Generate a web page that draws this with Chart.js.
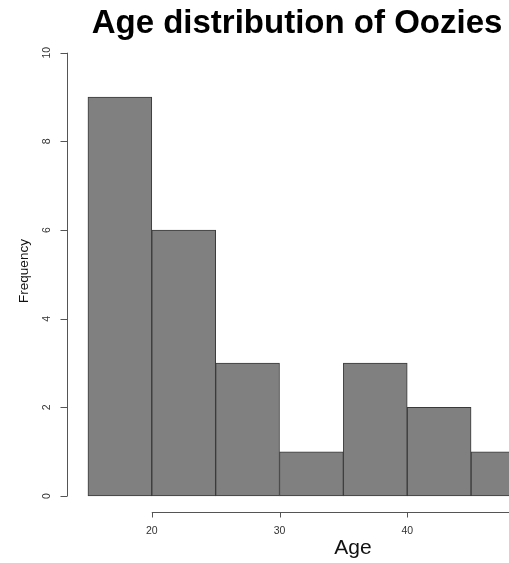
<!DOCTYPE html>
<html>
<head>
<meta charset="utf-8">
<title>Age distribution of Oozies</title>
<script src="https://cdn.jsdelivr.net/npm/chart.js@4/dist/chart.umd.min.js"></script>
<style>
  html, body { margin: 0; padding: 0; background: #ffffff; overflow: hidden; }
  canvas { display: block; }
</style>
</head>
<body>
<canvas id="hist" width="509" height="563"></canvas>
<script>
// Histogram bins (left edges, width) and counts per bin
const binStarts = [15, 20, 25, 30, 35, 40, 45];
const binWidth = 5;
const counts = [9, 6, 3, 1, 3, 2, 1];

// Axis tick values
const xTicks = [20, 30, 40, 50];
const yTicks = [0, 2, 4, 6, 8, 10];

// Titles
const mainTitle = 'Age distribution of Oozies';
const xTitle = 'Age';
const yTitle = 'Frequency';

const FONT = '"Liberation Sans", Arial, Helvetica, sans-serif';

// Base-graphics style axes: detached from the plot area, lines span the tick range only
const baseAxes = {
  id: 'baseAxes',
  afterDraw(chart) {
    const { ctx, chartArea } = chart;
    const xs = chart.scales.x, ys = chart.scales.y;
    ctx.save();
    ctx.strokeStyle = '#555555';
    ctx.lineWidth = 1;
    ctx.fillStyle = '#333333';

    // y axis
    const ax = Math.round(chartArea.left) + 0.5;
    const y0 = ys.getPixelForValue(yTicks[0]);
    const y1 = ys.getPixelForValue(yTicks[yTicks.length - 1]);
    ctx.beginPath();
    ctx.moveTo(ax, y0);
    ctx.lineTo(ax, y1);
    yTicks.forEach(v => {
      const py = Math.round(ys.getPixelForValue(v)) + 0.5;
      ctx.moveTo(ax, py);
      ctx.lineTo(ax - 7, py);
    });
    ctx.stroke();

    ctx.font = '10.5px ' + FONT;
    ctx.textAlign = 'center';
    ctx.textBaseline = 'middle';
    yTicks.forEach(v => {
      const py = ys.getPixelForValue(v);
      ctx.save();
      ctx.translate(ax - 20, py);
      ctx.rotate(-Math.PI / 2);
      ctx.fillText(String(v), 0, 0);
      ctx.restore();
    });

    // x axis
    const ay = Math.round(chartArea.bottom) + 0.5;
    const x0 = xs.getPixelForValue(xTicks[0]);
    const x1 = xs.getPixelForValue(xTicks[xTicks.length - 1]);
    ctx.beginPath();
    ctx.moveTo(x0, ay);
    ctx.lineTo(x1, ay);
    xTicks.forEach(v => {
      const px = Math.round(xs.getPixelForValue(v)) + 0.5;
      ctx.moveTo(px, ay);
      ctx.lineTo(px, ay + 5);
    });
    ctx.stroke();

    ctx.textBaseline = 'alphabetic';
    xTicks.forEach(v => {
      ctx.fillText(String(v), xs.getPixelForValue(v), ay + 21);
    });

    // axis titles
    ctx.fillStyle = '#111111';
    ctx.font = '21px ' + FONT;
    ctx.fillText(xTitle, 353, 554);

    ctx.save();
    ctx.translate(28, 271);
    ctx.rotate(-Math.PI / 2);
    ctx.font = '13.5px ' + FONT;
    ctx.fillText(yTitle, 0, 0);
    ctx.restore();

    // main title
    ctx.fillStyle = '#000000';
    ctx.font = 'bold 33px ' + FONT;
    ctx.fillText(mainTitle, 297, 33);

    ctx.restore();
  }
};

const points = binStarts.map((s, i) => ({ x: s + binWidth / 2, y: counts[i] }));

new Chart(document.getElementById('hist'), {
  type: 'bar',
  data: {
    datasets: [{
      label: 'Frequency',
      data: points,
      backgroundColor: '#808080',
      borderColor: '#3a3a3a',
      borderWidth: 1,
      borderSkipped: false,
      barPercentage: 1,
      categoryPercentage: 1
    }]
  },
  options: {
    responsive: false,
    animation: false,
    events: [],
    layout: { padding: { left: 67, right: 0, top: 35, bottom: 51 } },
    scales: {
      x: { type: 'linear', min: 13.36, max: 47.97, offset: false, display: false },
      y: { type: 'linear', min: -0.36, max: 10.4, display: false }
    },
    plugins: {
      legend: { display: false },
      tooltip: { enabled: false },
      title: { display: false }
    }
  },
  plugins: [baseAxes]
});
</script>
</body>
</html>
